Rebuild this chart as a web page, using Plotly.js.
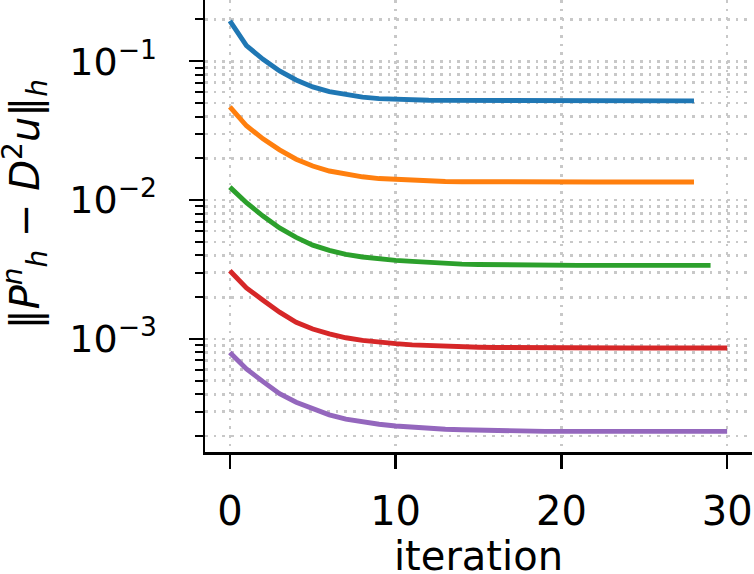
<!DOCTYPE html>
<html>
<head>
<meta charset="utf-8">
<script src="https://cdn.plot.ly/plotly-3.0.1.min.js"></script>
<style>html,body{margin:0;padding:0;background:#fff;}#chart{width:754px;height:574px;}</style>
</head>
<body>
<div id="chart"></div>
<script>
// iteration index (x values)
const iterations = [0,1,2,3,4,5,6,7,8,9,10,11,12,13,14,15,16,17,18,19,20,21,22,23,24,25,26,27,28,29,30];

// error norms, one series per mesh
const seriesBlue = [0.195,0.1294,0.1033,0.0851,0.0733,0.0653,0.0604,0.0572,0.0551,0.0538,
  0.0530,0.0527,0.0524,0.0523,0.0522,0.0521,0.0520,0.0519,0.0519,0.0518,
  0.0518,0.0518,0.0518,0.0518,0.0518,0.0518,0.0518,0.0518,0.0518];
const seriesOrange = [0.047,0.0343,0.0276,0.0230,0.0197,0.0176,0.0162,0.0153,0.01472,0.01429,
  0.01406,0.01383,0.0137,0.01362,0.01357,0.01353,0.0135,0.0135,0.0135,0.0135,
  0.0135,0.0135,0.0135,0.0135,0.0135,0.0135,0.0135,0.0135,0.0135];
const seriesGreen = [0.0124,0.00957,0.00767,0.0063,0.00539,0.00474,0.00434,0.00406,0.00389,0.00376,
  0.00368,0.00362,0.00355,0.0035,0.00346,0.00344,0.00342,0.00341,0.0034,0.00339,
  0.00339,0.00339,0.00339,0.00339,0.00339,0.00339,0.00339,0.00339,0.00339,0.00339];
const seriesRed = [0.0031,0.00233,0.0019,0.00156,0.00132,0.00118,0.00109,0.00102,0.000977,0.000946,
  0.000925,0.000906,0.000893,0.000884,0.000877,0.000872,0.000868,0.000865,0.000863,0.000862,
  0.000861,0.000861,0.000861,0.000861,0.000861,0.000861,0.000861,0.000861,0.000861,0.000861,0.000861];
const seriesPurple = [0.0008,0.000608,0.000493,0.000404,0.00035,0.000312,0.000284,0.000265,0.000253,0.000243,
  0.000236,0.000231,0.000227,0.000224,0.000222,0.00022,0.000219,0.000218,0.000217,0.000216,
  0.000216,0.000216,0.000216,0.000216,0.000216,0.000216,0.000216,0.000216,0.000216,0.000216,0.000216];

const xTickVals = [0,10,20,30];
const yTickVals = [1e-3,1e-2,1e-1];
const yTickText = ['10<sup>−3</sup>','10<sup>−2</sup>','10<sup>−1</sup>'];
const yMinorVals = [2e-4,3e-4,4e-4,5e-4,6e-4,7e-4,8e-4,9e-4,
  2e-3,3e-3,4e-3,5e-3,6e-3,7e-3,8e-3,9e-3,
  2e-2,3e-2,4e-2,5e-2,6e-2,7e-2,8e-2,9e-2,2e-1];

const allSeries = [seriesBlue, seriesOrange, seriesGreen, seriesRed, seriesPurple];
const colors = ['#1f77b4','#ff7f0e','#2ca02c','#d62728','#9467bd'];

const traces = allSeries.map((s, i) => ({
  x: iterations.slice(0, s.length),
  y: s,
  type: 'scatter',
  mode: 'lines',
  line: {color: colors[i], width: 4.9},
  hoverinfo: 'skip',
  showlegend: false
}));

const gridColor = '#c8c8c8';
const gridDash = '2.7px,6px';
const font = {family: 'DejaVu Sans', size: 40, color: '#000'};

const layout = {
  width: 754, height: 574,
  margin: {l: 205, r: 2, t: 0, b: 122, pad: 0},
  paper_bgcolor: '#fff', plot_bgcolor: '#fff',
  font: font,
  showlegend: false,
  xaxis: {
    range: [-1.5, 31.5],
    tickvals: xTickVals,
    ticktext: xTickVals.map(String),
    ticks: 'outside', ticklen: 14, tickwidth: 2.5, tickcolor: '#000',
    showline: true, linecolor: '#000', linewidth: 2.5,
    showgrid: true, gridcolor: gridColor, gridwidth: 2.7, griddash: gridDash,
    zeroline: false,
    tickfont: font,
    ticklabelstandoff: 8
  },
  yaxis: {
    type: 'log',
    range: [-3.814, -0.559],
    tickmode: 'array',
    tickvals: yTickVals,
    ticktext: yTickText,
    ticks: 'outside', ticklen: 14, tickwidth: 2.5, tickcolor: '#000',
    showline: true, linecolor: '#000', linewidth: 2.5,
    showgrid: true, gridcolor: gridColor, gridwidth: 2.7, griddash: gridDash,
    zeroline: false,
    tickfont: {family: 'DejaVu Sans', size: 38, color: '#000'},
    ticklabelstandoff: 24,
    minor: {
      tickmode: 'array',
      tickvals: yMinorVals,
      ticks: 'outside', ticklen: 8, tickwidth: 2, tickcolor: '#000',
      showgrid: true, gridcolor: gridColor, gridwidth: 2.7, griddash: gridDash
    }
  },
  annotations: [
    {
      text: 'iteration',
      xref: 'paper', yref: 'paper',
      x: 0.5, y: -0.229, xanchor: 'center', yanchor: 'middle',
      showarrow: false, font: font
    },
    {
      text: '‖<i>P</i><sup><i>n</i></sup><sub><i>h</i></sub> − <i>D</i><sup>2</sup><i>u</i>‖<sub><i>h</i></sub>',
      xref: 'paper', yref: 'paper',
      x: -0.329, y: 0.548, xanchor: 'center', yanchor: 'middle',
      textangle: -90,
      showarrow: false, font: font
    }
  ]
};

Plotly.newPlot('chart', traces, layout, {staticPlot: true, displayModeBar: false});
</script>
</body>
</html>
